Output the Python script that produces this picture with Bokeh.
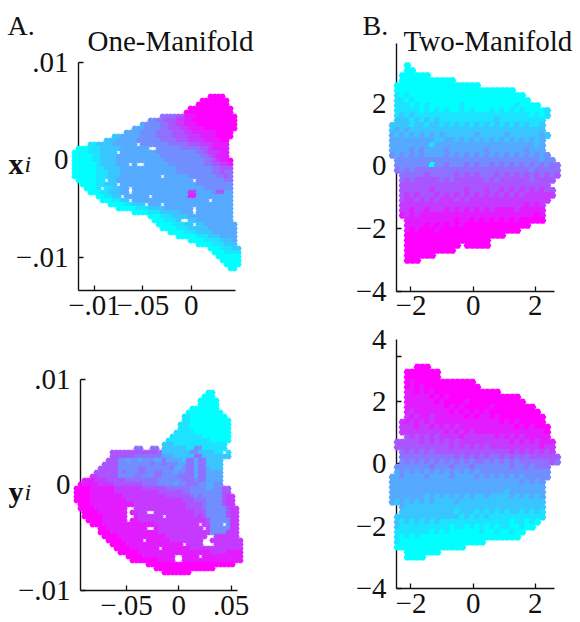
from bokeh.plotting import figure
from bokeh.layouts import column, row
from bokeh.models import ColumnDataSource, FixedTicker, Label, LinearColorMapper, Range1d
from bokeh.transform import transform
from bokeh.embed import file_html
from bokeh.resources import INLINE

# Sampled point clouds: each row is one y level; row_start is the first column
# on that row; each character is the colour level (0 cyan .. 9 magenta), space = no point.
tl_grid = (-0.1207, 0.004138, 0.0065, -0.000411)
tl_start = [34,32,31,29,28,22,19,17,15,13,10,8,4,1,0,0,0,0,0,0,0,1,2,3,4,6,7,9,11,15,19,20,21,22,24,26,29,31,34,35,36,37,38,39]
tl_levels = [
"9999","9999999","99999999","99999999999","999999999999",
"555566" "888" "9999999999",
"4455666" "77" "88" "99999999999",
"3444455667" "78" "88" "9999999999",
"33344445566" "67" "788" "88" "99999999",
"3333444455556" "667" "788" "88889999",
"2233333444455556" "66" "6777" "88" "889999",
"2223333344444455556" "6677" "7788" "8899",
"1122" "22333333" " " "444444455555" "6667778888",
"000" "111" "22222" "3333333" "  " "4444445555" "566" "78888",
"0000" "111" "2222" " " "333333333" "4444444444" "55" "677" "788",
"00000" "11" "2222" "3333333333" "3444444444" "455" "67888",
"00000" "11" "2222" "3333333333" "33444444444" "455" "678" "89",
"000000" "1" "2222" "33" "3" " " "3" "  " "33333" "34444444" "445" "5667" "78",
"000000" "11" "2222" "33333333333" "33344444444" "455" "666",
"000000" "111" "222" "33333333333" "33344444444" "4556" "55",
"000000" "111" "222" "3333333333" " " "33333344444445565",
"00000" "11" " " "22" "33" "33333333333333333" " " "444444455",
"0000" "11" "2" "22" " " "3333333333333333" "333444444444",
"000" "1" " " "11" "2233" " " "3333333333333333" "334444444",
"000" "11" "222" "33" " " "33333333333333" "77" "33334" "66" "33",
"00" "11" "22" " " "333333" " " "333333333" "88" "333333333",
"000" "11" "22" " " "3" "333" "333" "333333333333" " " "33333",
"0000" "11" "222" " " "333" " " "33333333333333333",
"00000" "111" "2222" "3333333" " " "333333333",
"0000" "111" "22222" "333" " " "333333333",
"000" "111" "2222" "33333333333",
"000" "111" "2" "  " "22333333333",
"0000" "111" "22" " " "2233333333",
"0000" "111" "22222" "3333333",
"0000" "111" "2222" "333333",
"00000" "111" "222" "3333",
"0000" "1111" "222" "3",
"0000" "111" "222",
"000" "111" "22",
"000" "11" "11",
"000000","00000","0000","00"]

bl_grid = (-0.0977, 0.00382, 0.00877, -0.000379)
bl_start = [33,32,31,31,29,28,27,27,26,26,25,24,23,22,15,9,9,8,7,6,5,4,2,1,0,0,0,0,1,1,2,2,3,4,6,6,7,8,9,10,11,13,14,18,20,22]
bl_levels = [
"00","000","00000","00000","0000000","000000000",
"11000000000","110000000000","1110000000000","1110000000000",
"11111000000000","111111110000000","1111111111100000","2221111111111111",
"55" "  " "55" " " "2222221144111111",
"666666666666" "5" "222222244222211" " " "1",
"666666555555" "5" "3332222" "25522222" "22",
"666" "44344344433" "533332553" "552222",
"6666" "44444444544" "544433553" "552222",
"66666" "44444554444" "445334553" "553222",
"666666" "45444554455" "444344553" "553333",
"7766666" "44445544455" "444455553" "553333",
"888" "777666" "6655555555" "4444445554" "553333",
"9888" "877776" "6666665555" "4444344555" "443344",
"9999" "888888" "77777776" "6666655" "555544" "44334466",
"9999" "888888" "77777777" "7776666" "665544" "44444466",
"9999" "888888" "88777777" "7777766" "666654" "544444677",
"9999" "888888" "88877777" "7777777" "776665" "554444677",
"999" "888888" "88888777" "7777777" "777666" "654444677",
"999" "988888" "888  777" "7777777" "777666" "6544444677",
"99" "998888" "888 8777" "  77777" "777776" "6644444677",
"99" "999888" "888  877" "7777 77" "777776" "7644444677",
"9" "999888" "888 8877" "7777777" "777777" "7764444477",
"999888" "88888888" "8877777" "777777" " 76444 477",
"9988" "88888888" "  87777" "777777" "7 74444477",
"9998" "88888888" "8887777" "777777" "7774444777",
"999" "98888888" "8888877" "777777" "77  777777",
"99" "9988888 " "8888887" "777777" "7  77777777",
"9" "99988888" "8888888" "88 777" "7   7777777",
"99998888" "888 888" "888877" "77777777777",
"9999988" "8888888" "888888" "88877778888",
"99998" "888888" "8  8" "888" " 8888888888",
"9999" "999888" "8  8" "888" "88888888888",
"9999999999999999999999",
"999999999999999",
"9999999"]

tr_grid = (-2.595, 0.1608, 3.204, -0.1597)
tr_start = [3,3,2,2,1,1,1,1,1,1,1,1,0,0,0,0,0,0,0,1,1,1,2,2,2,2,2,2,2,2,2,3,3,3,3,3,3,3,3,3]
tr_levels = [
"0","00","000000","00000000000","00000000000000000",
"000000000000000000000000","10100000000000000000000000",
"110100000000000000000000000","11101010000001000000000010000",
"1111101010100101000101010100001","1212111111111111111111111110101",
"222121212111111111112111111111","2222122122121212121212121212112",
"2323222222222222222222222222222","32323232323222222322222322222232",
"3333333332233232323232323232323","3333333313333333333333333333323",
"3333434333343333333433333334333","43434343333434343434343434343434",
"44444444444444444444444444444344","444444404454445454454545454545455",
"545455555555555555555555555455555","55555655555656565556565656565656",
"5656666656566666656566666656666","666666666666666666666666666666",
"6666667666666766676676767676766","6767666767676767676767676777777",
"677676767776767777777777777777","77777777777777777777777778787",
"77877877787878787878888788888","87878888888888888888888888898",
"8888888888988989898989899999","8888989898989999999999999",
"89899989999999999999999","99999999999999999999","99999999999999999",
"99999999999 99999","9999999999","999999","999"]

br_grid = (-2.595, 0.1608, 3.096, -0.1603)
br_start = [5,3,3,3,3,3,3,3,3,3,3,2,2,2,3,1,1,2,2,2,1,1,0,0,0,0,0,0,2,2,1,1,1,1,1,1,1,3,3]
br_levels = [
"999","9999999","9999999","98999999999999","989899999999999",
"8898989999999999999","88888989899999999999999","888888989999899999999999",
"88888888989899999899999999","878888888989898989999999999",
"7878878888889898898999999999","78787878888888888888989899999",
"777877878787888888888889898999","777777777878787888888888888889",
"67676767777877777787878788888","66666767676767777777777878787888",
"66666666666767676767777777777877","5656565666666666666666767676767",
"55555555555656565655656565666666","45454545454545455454545455555565",
"4444444544454445444444454454555","3434343434343434344444444444444",
"33433334333343333434343434344444","3333333333333333333333333343434",
"3333333333333333333333333333333","3333333333333333333333323333333",
"3333333232323232322322223232323","3232323232222322222222222222222",
"32222222222222222222222222222","22222222222122212121212212121",
"222222222222212121211111111111","21212121211111111111111011010",
"2111111111101101010101100100","11111110101000000100100100","1010100000000000000000000",
"100000000000000000","00000000000000","0000000","0000"]

palette_levels = ["#00ffff","#1ce3ff","#39c6ff","#55aaff","#718eff","#8e71ff","#aa55ff","#c639ff","#e31cff","#ff00ff"]

tl_xticks = [-0.1, -0.05, 0]
tl_xlabels = ["−.01", "−.05", "0"]
tl_yticks = [-0.01, 0, 0.01]
tl_ylabels = ["−.01", "0", ".01"]
bl_xticks = [-0.05, 0, 0.05]
bl_xlabels = ["−.05", "0", ".05"]
bl_yticks = [-0.01, 0, 0.01]
bl_ylabels = ["−.01", "0", ".01"]
b_xticks = [-2, 0, 2]
b_xlabels = ["−2", "0", "2"]
b_yticks = [-4, -2, 0, 2, 4]
b_ylabels = ["−4", "−2", "0", "2", "4"]
tr_yticks = [-4, -2, 0, 2]
tr_ylabels = ["−4", "−2", "0", "2"]

FONT = "Liberation Serif"
mapper = LinearColorMapper(palette=palette_levels, low=-0.5, high=9.5)


def cloud(grid, starts, levels):
    x0, dx, y0, dy = grid
    xs, ys, ls = [], [], []
    for j, (s, line) in enumerate(zip(starts, levels)):
        for i, ch in enumerate(line):
            if ch != " ":
                xs.append(x0 + dx * (s + i))
                ys.append(y0 + dy * j)
                ls.append(int(ch))
    return ColumnDataSource(dict(x=xs, y=ys, level=ls))


def panel(w, h, xr, yr, x_bounds, y_bounds, grid, starts, levels, size,
          xt, xl, yt, yl, yminor=None):
    p = figure(width=w, height=h, output_backend="svg", toolbar_location=None,
               x_range=Range1d(*xr), y_range=Range1d(*yr), tools="",
               min_border=0, outline_line_color=None,
               background_fill_color=None, border_fill_color=None)
    p.grid.visible = False
    p.scatter("x", "y", source=cloud(grid, starts, levels), marker="hex", size=size,
              color=transform("level", mapper), line_color=None)
    xa, ya = p.xaxis[0], p.yaxis[0]
    ya.fixed_location = x_bounds[0]
    xa.fixed_location = y_bounds[0]
    xa.bounds = x_bounds
    ya.bounds = y_bounds
    xa.ticker = FixedTicker(ticks=xt)
    xa.major_label_overrides = dict(zip(xt, xl))
    if yminor is not None:
        ya.ticker = FixedTicker(ticks=yt, minor_ticks=yminor)
        ya.major_tick_in = 0
        ya.minor_tick_in = 5
        ya.minor_tick_line_width = 1.3
        ya.minor_tick_line_color = "#111111"
    else:
        ya.ticker = FixedTicker(ticks=yt)
        ya.major_tick_in = 5
        ya.minor_tick_in = 0
    ya.major_label_overrides = dict(zip(yt, yl))
    xa.major_tick_in = 5
    xa.minor_tick_in = 0
    for a in (xa, ya):
        a.major_tick_out = 0
        a.minor_tick_out = 0
        a.axis_line_color = "#111111"
        a.axis_line_width = 1.4
        a.major_tick_line_color = "#111111"
        a.major_tick_line_width = 1.3
        a.major_label_text_font = FONT
        a.major_label_text_font_size = "29px"
        a.major_label_text_color = "#111111"
        a.level = "underlay"
    xa.major_label_standoff = 5
    ya.major_label_standoff = 10
    return p


def txt(p, x0, bottom, px, py, s, size="29px", style="normal"):
    p.add_layout(Label(x=px - x0, y=bottom - py, x_units="screen", y_units="screen",
                       text=s, text_font=FONT, text_font_size=size, text_font_style=style,
                       text_color="#111111", text_baseline="alphabetic", text_align="left"))


tl = panel(290, 320, (-0.19729, 0.10272), (-0.016507, 0.016364), (-0.1167, 0.0458), (-0.01343, 0.01),
           tl_grid, tl_start, tl_levels, 6.3, tl_xticks, tl_xlabels, tl_yticks, tl_ylabels)
tr = panel(290, 320, (-5.875, 3.453), (-4.942, 5.281), (-2.466, 2.614), (-4, 3.91),
           tr_grid, tr_start, tr_levels, 7.8, b_xticks, b_xlabels, tr_yticks, tr_ylabels)
bl = panel(290, 302, (-0.1703, 0.10669), (-0.013033, 0.015592), (-0.0939, 0.0561), (-0.01, 0.01),
           bl_grid, bl_start, bl_levels, 6.3, bl_xticks, bl_xlabels, bl_yticks, bl_ylabels)
br = panel(290, 302, (-5.875, 3.453), (-5.087, 4.593), (-2.466, 2.614), (-4, 3.98),
           br_grid, br_start, br_levels, 7.8, b_xticks, b_xlabels, b_yticks, b_ylabels,
           yminor=[-4, -2, 0, 2, 3.45])

txt(tl, 0, 320, 7, 25, "A.", "28px")
txt(tl, 0, 320, 87, 40, "One-Manifold")
txt(tl, 0, 320, 8, 163, "x", "30px", "bold")
txt(tl, 0, 320, 24, 163, "i", "24px", "italic")
txt(bl, 0, 622, 8, 491, "y", "30px", "bold")
txt(bl, 0, 622, 24, 491, "i", "24px", "italic")
txt(tr, 290, 320, 362, 25, "B.", "28px")
txt(tr, 290, 320, 403, 40, "Two-Manifold")

page = column(row(tl, tr), row(bl, br))
open("out.html", "w", encoding="utf-8").write(file_html(page, INLINE))
